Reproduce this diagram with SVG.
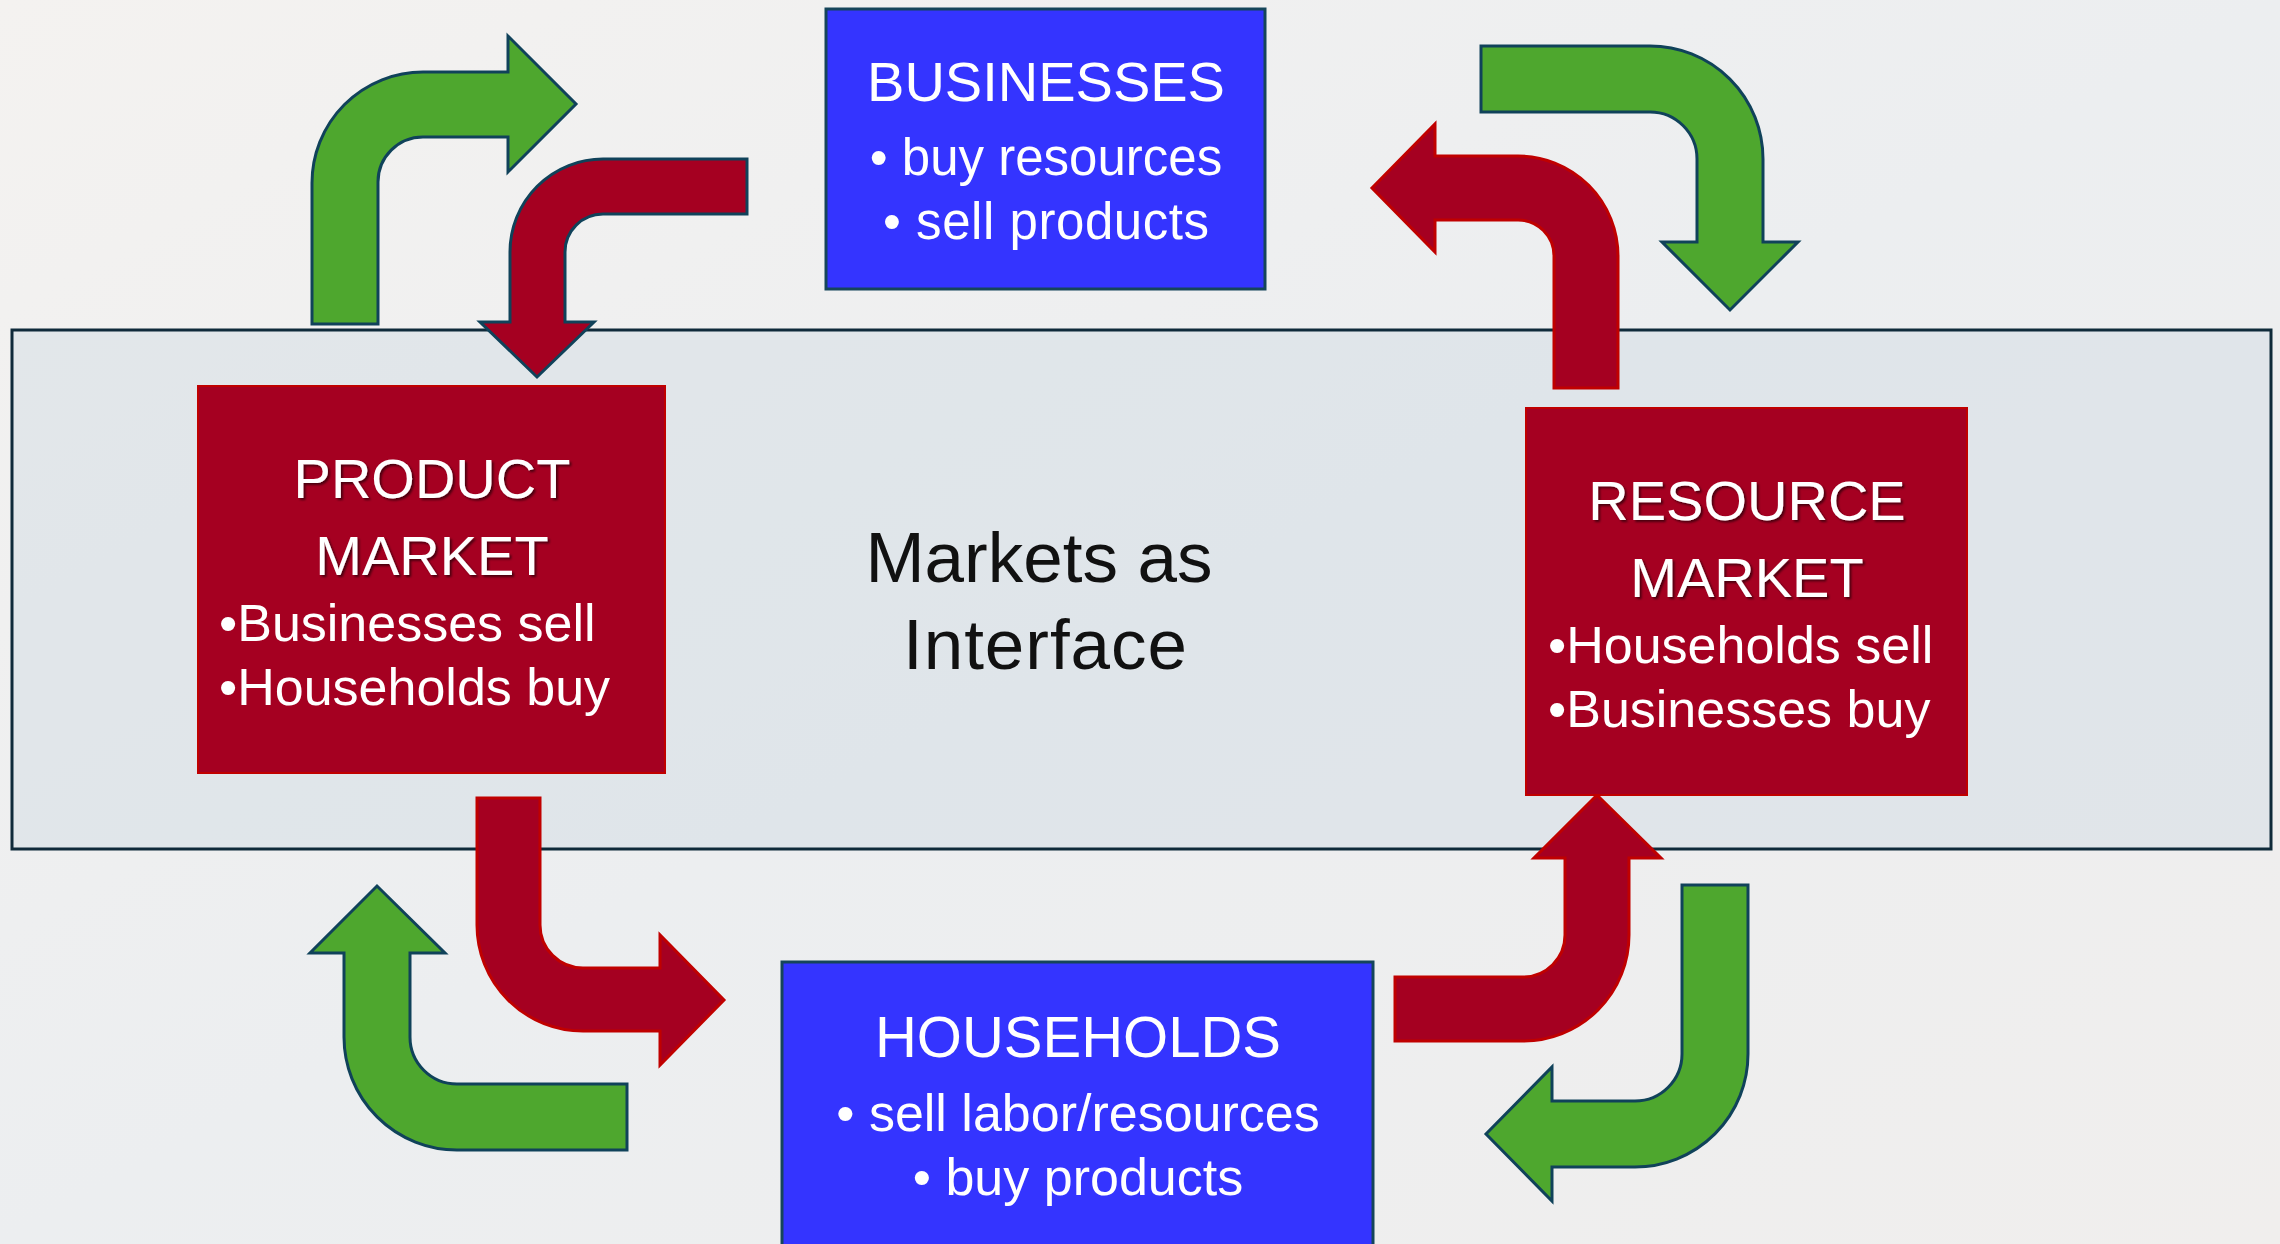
<svg xmlns="http://www.w3.org/2000/svg" width="2280" height="1244" viewBox="0 0 2280 1244">
  <defs>
    <linearGradient id="bg" x1="0" y1="0" x2="1" y2="1">
      <stop offset="0" stop-color="#f4f2f0"/>
      <stop offset="0.5" stop-color="#eceef0"/>
      <stop offset="1" stop-color="#f0eeed"/>
    </linearGradient>
    <filter id="shadow" x="-10%" y="-20%" width="120%" height="150%">
      <feDropShadow dx="2" dy="2" stdDeviation="1.2" flood-color="#000" flood-opacity="0.55"/>
    </filter>
    <style>
      .txt { font-family: "Liberation Sans", Arial, sans-serif; fill: #ffffff; }
      .ctr { text-anchor: middle; }
      .blue { fill: #3434ff; stroke: #15455a; stroke-width: 3; }
      .red { fill: #a50021; stroke: #c00000; stroke-width: 2; }
      .ag { fill: #4ea72e; stroke: #10425a; stroke-width: 3; stroke-linejoin: miter; }
      .ar { fill: #a50021; stroke: #c00000; stroke-width: 3; stroke-linejoin: miter; }
      .arb { fill: #a50021; stroke: #10425a; stroke-width: 3; stroke-linejoin: miter; }
      .title { font-size: 56px; }
      .bul { font-size: 52px; }
    </style>
  </defs>

  <rect x="0" y="0" width="2280" height="1244" fill="url(#bg)"/>

  <g id="markets-interface">
    <rect x="12" y="330" width="2259" height="519" fill="#d6dee6" fill-opacity="0.55" stroke="#0f2a3a" stroke-width="3"/>
    <text x="1039" y="582" font-family="Liberation Sans, Arial, sans-serif" font-size="71" fill="#111111" text-anchor="middle">Markets as</text>
    <text x="1045" y="669" font-family="Liberation Sans, Arial, sans-serif" font-size="71" fill="#111111" text-anchor="middle" textLength="284" lengthAdjust="spacing">Interface</text>
  </g>

  <g id="connectors">
    <path class="ag" d="M312,324 L312,183 A111,111 0 0 1 423,72 L508,72 L508,36 L576,104 L508,172 L508,137 L423,137 A45,45 0 0 0 378,182 L378,324 Z"/>
    <path class="arb" d="M747,159 L747,214 L603,214 A38,38 0 0 0 565,252 L565,322 L594,322 L537,377 L480,322 L510,322 L510,252 A93,93 0 0 1 603,159 Z"/>
    <path class="ag" d="M1481,46 L1650,46 A113,113 0 0 1 1763,159 L1763,242 L1798,242 L1730,310 L1662,242 L1697,242 L1697,159 A47,47 0 0 0 1650,112 L1481,112 Z"/>
    <path class="ar" d="M1554,388 L1554,256 A36,36 0 0 0 1518,220 L1435,220 L1435,252 L1372,188 L1435,124 L1435,156 L1518,156 A100,100 0 0 1 1618,256 L1618,388 Z"/>
    <path class="ar" d="M477,798 L540,798 L540,925 A43,43 0 0 0 583,968 L660,968 L660,935 L724,1000 L660,1065 L660,1031 L583,1031 A106,106 0 0 1 477,925 Z"/>
    <path class="ag" d="M627,1084 L627,1150 L457,1150 A113,113 0 0 1 344,1037 L344,953 L310,953 L377,886 L445,953 L410,953 L410,1037 A47,47 0 0 0 457,1084 Z"/>
    <path class="ar" d="M1395,977 L1523,977 A42,42 0 0 0 1565,935 L1565,858 L1534,858 L1597,795 L1661,858 L1629,858 L1629,935 A106,106 0 0 1 1523,1041 L1395,1041 Z"/>
    <path class="ag" d="M1682,885 L1748,885 L1748,1054 A113,113 0 0 1 1635,1167 L1552,1167 L1552,1201 L1486,1134 L1552,1067 L1552,1101 L1635,1101 A47,47 0 0 0 1682,1054 Z"/>
  </g>

  <g id="businesses">
    <rect class="blue" x="826" y="9" width="439" height="280"/>
    <text class="txt ctr title" x="1046" y="101">BUSINESSES</text>
    <text class="txt ctr" font-size="51" x="1046" y="175">• buy resources</text>
    <text class="txt ctr" font-size="51" x="1046" y="239" textLength="326" lengthAdjust="spacing">• sell products</text>
  </g>

  <g id="households">
    <rect class="blue" x="782" y="962" width="591" height="300"/>
    <text class="txt ctr" font-size="58" x="1078" y="1057">HOUSEHOLDS</text>
    <text class="txt ctr bul" x="1078" y="1131">• sell labor/resources</text>
    <text class="txt ctr bul" x="1078" y="1195">• buy products</text>
  </g>

  <g id="product-market">
    <rect class="red" x="198" y="386" width="467" height="387"/>
    <text class="txt ctr title" x="432" y="498" filter="url(#shadow)">PRODUCT</text>
    <text class="txt ctr title" x="432" y="575" filter="url(#shadow)">MARKET</text>
    <text class="txt bul" x="219" y="641">•Businesses sell</text>
    <text class="txt bul" x="219" y="705">•Households buy</text>
  </g>

  <g id="resource-market">
    <rect class="red" x="1526" y="408" width="441" height="387"/>
    <text class="txt ctr title" x="1747" y="520" filter="url(#shadow)">RESOURCE</text>
    <text class="txt ctr title" x="1747" y="597" filter="url(#shadow)">MARKET</text>
    <text class="txt bul" x="1548" y="663">•Households sell</text>
    <text class="txt bul" x="1548" y="727">•Businesses buy</text>
  </g>
</svg>
